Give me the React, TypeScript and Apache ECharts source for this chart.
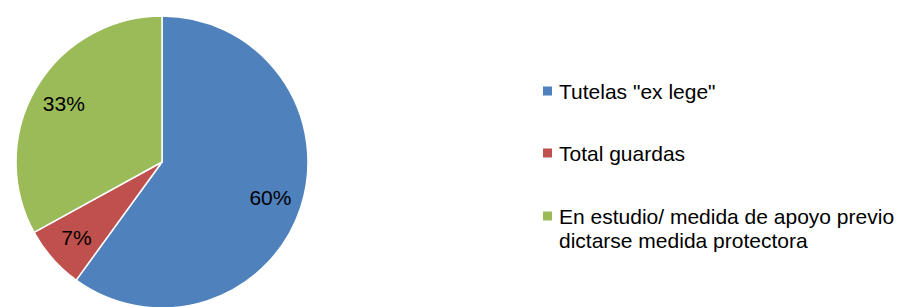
import React, { useEffect, useRef } from "react";
import * as echarts from "echarts";

const categories = ["Tutelas \"ex lege\"", "Total guardas", "En estudio/ medida de apoyo previo\ndictarse medida protectora"];
const values = [60, 7, 33];
const colors = ["#4F81BD", "#C0504D", "#9BBB59"];
const legendY = [91, 153, 216];

export default function App() {
  const ref = useRef<HTMLDivElement>(null);
  useEffect(() => {
    document.body.style.margin = "0";
    const chart = echarts.init(ref.current!, null, { renderer: "svg" });
    const font = "'Liberation Sans', Arial, sans-serif";
    const data = categories.map((name, i) => ({ name, value: values[i], itemStyle: { color: colors[i] } }));
    const graphic: any[] = [];
    categories.forEach((name, i) => {
      graphic.push({
        type: "rect",
        shape: { x: 543, y: legendY[i] - 4.5, width: 9, height: 9 },
        style: { fill: colors[i] },
      });
      graphic.push({
        type: "text",
        x: 559,
        y: legendY[i] - 12,
        style: { text: name, font: `21px ${font}`, fill: "#000", lineHeight: 24, verticalAlign: "top" },
      });
    });
    chart.setOption({
      animation: false,
      backgroundColor: "#fff",
      graphic,
      series: [
        {
          type: "pie",
          center: [162, 162],
          radius: [0, 146],
          startAngle: 90,
          clockwise: true,
          silent: true,
          label: { show: false },
          labelLine: { show: false },
          itemStyle: { borderColor: "#fff", borderWidth: 1.5 },
          data,
        },
        {
          type: "pie",
          center: [162, 162],
          radius: [76, 146],
          startAngle: 90,
          clockwise: true,
          silent: true,
          label: {
            show: true,
            position: "inside",
            formatter: "{c}%",
            color: "#000",
            fontSize: 21,
            fontFamily: font,
          },
          labelLine: { show: false },
          itemStyle: { color: "transparent", borderWidth: 0 },
          data: categories.map((name, i) => ({ name, value: values[i] })),
        },
      ],
    });
    return () => chart.dispose();
  }, []);
  return <div ref={ref} style={{ width: 902, height: 307 }} />;
}
